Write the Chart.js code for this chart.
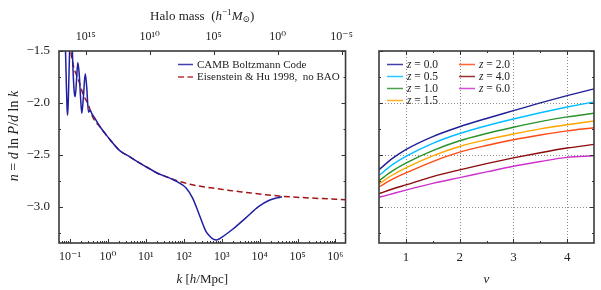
<!DOCTYPE html>
<html><head><meta charset="utf-8">
<script src="https://cdn.jsdelivr.net/npm/chart.js@4/dist/chart.umd.min.js"></script>
<style>
html,body{margin:0;padding:0;background:#fff;}
#wrap{position:relative;width:601px;height:290px;overflow:hidden;}
#c1{position:absolute;left:0;top:0;}
#c2{position:absolute;left:360px;top:0;}
</style></head><body>
<div id="wrap"><canvas id="c1" width="360" height="290"></canvas><canvas id="c2" width="241" height="290"></canvas></div>
<script>
// ---------- data ----------
const cambK = [0.0724,0.0794,0.0832,0.0861,0.0902,0.0955,0.101,0.107,0.1135,0.120,0.129,0.1365,0.148,0.160,0.174,0.1905,0.204,0.224,0.251,0.275,0.305,0.339,0.372,0.437,0.537,0.617,1.0,2.04,3.77,6.9,12.6,20.9,39.8,56,76.7,115,171,256,384,501,617,724,1042,1905,4266,9550,17400,28200,38900];
const cambN = [-1.2,-1.8,-2.05,-2.12,-1.95,-1.6,-1.35,-1.3,-1.45,-1.7,-1.9,-1.94,-1.78,-1.61,-1.72,-1.97,-2.10,-1.95,-1.72,-1.85,-2.09,-2.07,-2.10,-2.14,-2.195,-2.23,-2.33,-2.46,-2.52,-2.58,-2.635,-2.68,-2.72,-2.745,-2.772,-2.82,-2.917,-3.077,-3.237,-3.29,-3.315,-3.32,-3.29,-3.22,-3.11,-2.997,-2.94,-2.915,-2.905];
const ehK = [0.1,0.1096,0.1236,0.167,0.2254,0.288,0.412,0.617,1.0,2.04,3.77,6.9,12.6,20.9,39.8,76.7,200,571,1585,4266,12600,38900,234000,2000000];
const ehN = [-1.42,-1.55,-1.65,-1.78,-1.925,-2.0,-2.15,-2.23,-2.33,-2.46,-2.52,-2.58,-2.635,-2.68,-2.72,-2.757,-2.795,-2.82,-2.843,-2.862,-2.882,-2.90,-2.917,-2.933];
const leftLabels = ['CAMB Boltzmann Code','Eisenstein & Hu 1998,  no BAO'];

const nuValues = [0.5,0.75,1,1.5,2,2.5,3,3.5,4,4.5];
const redshiftLabels = ['z = 0.0','z = 0.5','z = 1.0','z = 1.5','z = 2.0','z = 4.0','z = 6.0'];
const nZ00 = [-2.644,-2.535,-2.45,-2.325,-2.23,-2.15,-2.075,-2.0,-1.93,-1.865];
const nZ05 = [-2.70,-2.595,-2.515,-2.39,-2.295,-2.22,-2.155,-2.095,-2.04,-1.99];
const nZ10 = [-2.75,-2.655,-2.58,-2.46,-2.365,-2.295,-2.235,-2.18,-2.135,-2.10];
const nZ15 = [-2.78,-2.695,-2.625,-2.51,-2.42,-2.355,-2.30,-2.25,-2.21,-2.175];
const nZ20 = [-2.81,-2.735,-2.675,-2.565,-2.475,-2.41,-2.355,-2.31,-2.27,-2.24];
const nZ40 = [-2.875,-2.83,-2.79,-2.71,-2.645,-2.585,-2.53,-2.48,-2.435,-2.40];
const nZ60 = [-2.91,-2.875,-2.84,-2.775,-2.72,-2.665,-2.61,-2.565,-2.525,-2.51];

const kTickValues = [0.1,1,10,100,1000,10000,100000,1000000];
const massTickValues = [1e15,1e10,1e5,1,1e-5];
const nTickValues = [-3.0,-2.5,-2.0,-1.5];
const nMinorTickValues = [-3.25,-2.75,-2.25,-1.75];
const nuTickValues = [1,2,3,4];
const nuMinorTickValues = [1.5,2.5,3.5];

// ---------- helpers ----------
const SERIF = "'Liberation Serif','DejaVu Serif',serif";
const SUP = {'-':'⁻','0':'⁰','1':'¹','2':'²','3':'³','4':'⁴','5':'⁵','6':'⁶','7':'⁷','8':'⁸','9':'⁹'};
function pow10Label(v){ const e = Math.round(Math.log10(v)); return '10' + String(e).split('').map(c=>SUP[c]).join(''); }
function minusFmt(v){ return Number(v).toFixed(1).replace('-','\u2212'); }
const kMinorTicks = [];
for (let e=-2; e<=6; e++) for (let m=2; m<=9; m++) kMinorTicks.push(m*Math.pow(10,e));

function drawRich(ctx, segs, cx, cy, size, rotate){
  ctx.save();
  ctx.translate(cx, cy);
  if (rotate) ctx.rotate(rotate);
  ctx.textBaseline = 'alphabetic';
  ctx.fillStyle = '#222';
  const fontOf = s => (s.it ? 'italic ' : '') + (s.sup||s.sub ? size*0.7 : size) + 'px ' + SERIF;
  let w = 0;
  for (const s of segs){ ctx.font = fontOf(s); w += ctx.measureText(s.t).width; }
  let x = -w/2;
  const base = size*0.35;
  for (const s of segs){
    ctx.font = fontOf(s);
    const dy = s.sup ? -size*0.38 : (s.sub ? size*0.22 : 0);
    ctx.fillText(s.t, x, base + dy);
    x += ctx.measureText(s.t).width;
  }
  ctx.restore();
}

const mplFrame = {
  id: 'mplFrame',
  beforeDatasetsDraw(chart, args, opts){
    const {ctx, chartArea:a} = chart;
    if (!opts.grid) return;
    ctx.save();
    ctx.strokeStyle = '#8a8a8a'; ctx.lineWidth = 1; ctx.setLineDash([1,2]);
    for (const v of opts.grid.x){
      const p = Math.round(chart.scales.x.getPixelForValue(v)) + 0.5;
      ctx.beginPath(); ctx.moveTo(p, a.top); ctx.lineTo(p, a.bottom); ctx.stroke();
    }
    for (const v of opts.grid.y){
      const p = Math.round(chart.scales.y.getPixelForValue(v)) + 0.5;
      ctx.beginPath(); ctx.moveTo(a.left, p); ctx.lineTo(a.right, p); ctx.stroke();
    }
    ctx.restore();
  },
  afterDatasetsDraw(chart, args, opts){
    const {ctx, chartArea:a} = chart;
    ctx.save();
    ctx.strokeStyle = '#333'; ctx.lineWidth = 1;
    for (const spec of opts.ticks){
      const sc = chart.scales[spec.scale];
      for (const v of spec.values){
        const p = sc.getPixelForValue(v);
        if (spec.scale.startsWith('x')){
          if (p < a.left-0.5 || p > a.right+0.5) continue;
          const px = Math.round(p)+0.5;
          for (const side of spec.sides){
            ctx.beginPath();
            if (side==='bottom'){ ctx.moveTo(px, a.bottom); ctx.lineTo(px, a.bottom-spec.len); }
            else { ctx.moveTo(px, a.top); ctx.lineTo(px, a.top+spec.len); }
            ctx.stroke();
          }
        } else {
          if (p < a.top-0.5 || p > a.bottom+0.5) continue;
          const py = Math.round(p)+0.5;
          for (const side of spec.sides){
            ctx.beginPath();
            if (side==='left'){ ctx.moveTo(a.left, py); ctx.lineTo(a.left+spec.len, py); }
            else { ctx.moveTo(a.right, py); ctx.lineTo(a.right-spec.len, py); }
            ctx.stroke();
          }
        }
      }
    }
    ctx.strokeStyle = '#3a3a3a'; ctx.lineWidth = 1.6;
    ctx.strokeRect(a.left, a.top, a.right-a.left, a.bottom-a.top);
    ctx.restore();
  }
};

const mplLegend = {
  id: 'mplLegend',
  afterDraw(chart, args, opts){
    const {ctx, chartArea:a} = chart;
    ctx.save();
    for (const it of opts.items){
      const ds = chart.data.datasets[it.ds];
      const x = a.left + opts.x0 + it.col*opts.colWidth;
      const y = a.top + opts.y0 + it.row*opts.rowHeight;
      ctx.strokeStyle = ds.borderColor; ctx.lineWidth = 1.5; ctx.globalAlpha = 0.85;
      ctx.setLineDash(ds.borderDash || []);
      ctx.beginPath(); ctx.moveTo(x, y+0.5); ctx.lineTo(x+opts.lineLen, y+0.5); ctx.stroke();
      ctx.globalAlpha = 1; ctx.setLineDash([]);
      ctx.fillStyle = '#222'; ctx.textBaseline = 'middle';
      let tx = x + opts.lineLen + opts.gap;
      const lab = ds.label;
      if (lab.startsWith('z =')){
        ctx.font = 'italic ' + opts.size + 'px ' + SERIF;
        ctx.fillText('z', tx, y+1); tx += ctx.measureText('z').width;
        ctx.font = opts.size + 'px ' + SERIF;
        ctx.fillText(lab.slice(1), tx, y+1);
      } else {
        ctx.font = opts.size + 'px ' + SERIF;
        ctx.fillText(lab, tx, y+1);
      }
    }
    ctx.restore();
  }
};

const richTitles = {
  id: 'richTitles',
  afterDraw(chart, args, opts){
    const {ctx, chartArea:a} = chart;
    for (const t of opts.titles){
      const cx = t.x === 'center' ? (a.left+a.right)/2 : t.x;
      const cy = t.y === 'middle' ? (a.top+a.bottom)/2 : t.y;
      drawRich(ctx, t.segs, cx, cy, t.size, t.rotate || 0);
    }
  }
};

const tickFont = {family: SERIF, size: 12};
const yTickFont = {family: SERIF, size: 13};

// ---------- left chart ----------
new Chart(document.getElementById('c1'), {
  type: 'line',
  data: {
    datasets: [
      { label: leftLabels[0], data: cambK.map((k,i)=>({x:k, y:cambN[i]})), xAxisID:'x', yAxisID:'y',
        borderColor:'#1f1fa3', borderWidth:1.5, pointRadius:0, cubicInterpolationMode:'monotone', fill:false },
      { label: leftLabels[1], data: ehK.map((k,i)=>({x:k, y:ehN[i]})), xAxisID:'x', yAxisID:'y',
        borderColor:'#a31515', borderWidth:1.5, borderDash:[6,3.5], pointRadius:0, cubicInterpolationMode:'monotone', fill:false }
    ]
  },
  options: {
    responsive:false, animation:false, devicePixelRatio:1,
    layout:{padding:{left:0, right:12, top:0, bottom:0}},
    plugins:{
      legend:{display:false}, tooltip:{enabled:false},
      mplFrame:{ ticks:[
        {scale:'x', values:kTickValues, sides:['bottom'], len:4},
        {scale:'x', values:kMinorTicks, sides:['bottom'], len:2},
        {scale:'x2', values:massTickValues, sides:['top'], len:4},
        {scale:'y', values:nTickValues, sides:['left','right'], len:4},
        {scale:'y', values:nMinorTickValues, sides:['left','right'], len:2}
      ]},
      mplLegend:{ x0:119, y0:13, rowHeight:12.5, colWidth:0, lineLen:15, gap:4, size:11,
        items:[{ds:0,col:0,row:0},{ds:1,col:0,row:1}] },
      richTitles:{ titles:[
        {x:'center', y:278, size:13, segs:[{t:'k',it:true},{t:' ['},{t:'h',it:true},{t:'/Mpc]'}]},
        {x:'center', y:15, size:13, segs:[{t:'Halo mass  ('},{t:'h',it:true},{t:'\u22121',sup:true},{t:'M',it:true},{t:'\u2299',sub:true},{t:')'}]},
        {x:13, y:136, size:14, rotate:-Math.PI/2, segs:[{t:'n',it:true},{t:' = '},{t:'d',it:true},{t:' ln '},{t:'P',it:true},{t:'/'},{t:'d',it:true},{t:' ln '},{t:'k',it:true}]}
      ]}
    },
    scales:{
      x:{ type:'logarithmic', position:'bottom', min:0.051, max:1.85e6,
          grid:{display:false, drawTicks:false}, border:{display:false},
          afterBuildTicks: s => { s.ticks = kTickValues.map(v=>({value:v})); },
          afterFit: s => { s.height = 47; },
          ticks:{autoSkip:false, maxRotation:0, padding:7, color:'#222', font:tickFont, callback:(v)=>pow10Label(v)} },
      x2:{ type:'logarithmic', position:'top', reverse:true, min:Math.pow(10,-5.31), max:Math.pow(10,17.09),
          grid:{display:false, drawTicks:false}, border:{display:false},
          afterBuildTicks: s => { s.ticks = massTickValues.map(v=>({value:v})); },
          afterFit: s => { s.height = 51; },
          ticks:{autoSkip:false, maxRotation:0, padding:7, color:'#222', font:tickFont, callback:(v)=>pow10Label(v)} },
      y:{ type:'linear', position:'left', min:-3.35, max:-1.5,
          grid:{display:false, drawTicks:false}, border:{display:false},
          afterBuildTicks: s => { s.ticks = nTickValues.map(v=>({value:v})); },
          afterFit: s => { s.width = 59; },
          ticks:{autoSkip:false, padding:9, color:'#222', font:yTickFont, callback:(v)=>minusFmt(v)} }
    }
  },
  plugins:[mplFrame, mplLegend, richTitles]
});

// ---------- right chart ----------
const zSeries = [nZ00,nZ05,nZ10,nZ15,nZ20,nZ40,nZ60];
const zColors = ['#1f1f96','#00bfff','#2a922a','#ffa500','#ff4a14','#8b0a0a','#cc33cc'];
new Chart(document.getElementById('c2'), {
  type: 'line',
  data: {
    datasets: zSeries.map((ser, j) => ({
      label: redshiftLabels[j], data: nuValues.map((nu,i)=>({x:nu, y:ser[i]})),
      borderColor: zColors[j], borderWidth:1.4, pointRadius:0, cubicInterpolationMode:'monotone', fill:false
    }))
  },
  options: {
    responsive:false, animation:false, devicePixelRatio:1,
    layout:{padding:{left:0, right:7, top:51, bottom:0}},
    plugins:{
      legend:{display:false}, tooltip:{enabled:false},
      mplFrame:{
        grid:{x:nuTickValues, y:[-3.0,-2.5,-2.0]},
        ticks:[
          {scale:'x', values:nuTickValues, sides:['bottom','top'], len:4},
          {scale:'x', values:nuMinorTickValues, sides:['bottom','top'], len:2},
          {scale:'y', values:nTickValues, sides:['left','right'], len:4},
          {scale:'y', values:nMinorTickValues, sides:['left','right'], len:2}
        ]},
      mplLegend:{ x0:8, y0:13, rowHeight:12, colWidth:72, lineLen:16, gap:4, size:11.5,
        items:[{ds:0,col:0,row:0},{ds:1,col:0,row:1},{ds:2,col:0,row:2},{ds:3,col:0,row:3},
               {ds:4,col:1,row:0},{ds:5,col:1,row:1},{ds:6,col:1,row:2}] },
      richTitles:{ titles:[ {x:'center', y:278, size:13, segs:[{t:'\u03bd',it:true}]} ] }
    },
    scales:{
      x:{ type:'linear', position:'bottom', min:0.5, max:4.5,
          grid:{display:false, drawTicks:false}, border:{display:false},
          afterBuildTicks: s => { s.ticks = nuTickValues.map(v=>({value:v})); },
          afterFit: s => { s.height = 47; },
          ticks:{autoSkip:false, maxRotation:0, padding:7, color:'#222', font:yTickFont, callback:(v)=>String(v)} },
      y:{ type:'linear', position:'left', min:-3.35, max:-1.5,
          grid:{display:false, drawTicks:false}, border:{display:false},
          afterFit: s => { s.width = 19; },
          ticks:{display:false} }
    }
  },
  plugins:[mplFrame, mplLegend, richTitles]
});
</script>
</body></html>
